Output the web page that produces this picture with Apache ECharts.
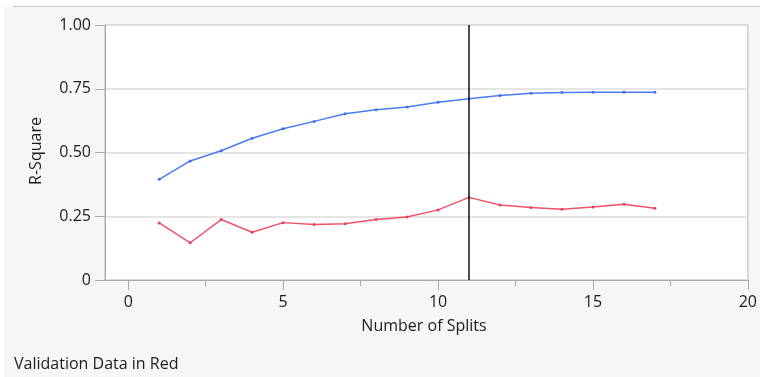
<!DOCTYPE html>
<html>
<head>
<meta charset="utf-8">
<script src="https://cdn.jsdelivr.net/npm/echarts@6/dist/echarts.min.js"></script>
<style>
  html, body { margin: 0; padding: 0; background: #ffffff; }
  #chart { width: 760px; height: 377px; }
</style>
</head>
<body>
<div id="chart"></div>
<script>
// Number of splits in the partition tree
const splits = [1, 2, 3, 4, 5, 6, 7, 8, 9, 10, 11, 12, 13, 14, 15, 16, 17];
// R-Square on the training data (blue)
const trainingRSquare = [0.395, 0.467, 0.507, 0.556, 0.593, 0.622, 0.652, 0.668, 0.678, 0.697, 0.711, 0.724, 0.732, 0.735, 0.736, 0.736, 0.736];
// R-Square on the validation data (red)
const validationRSquare = [0.224, 0.146, 0.237, 0.187, 0.225, 0.218, 0.221, 0.237, 0.247, 0.275, 0.324, 0.294, 0.284, 0.277, 0.286, 0.297, 0.281];
// Chosen number of splits
const chosenSplits = 11;
// Axis tick labels
const xTicks = [0, 5, 10, 15, 20];
const xMinorTicks = [2.5, 7.5, 12.5, 17.5];
const yTicks = [0, 0.25, 0.5, 0.75, 1];

const FONT = '"Open Sans", "Noto Sans", sans-serif';
const TEXT = '#1c1c1c';
const FS = 16;

const chart = echarts.init(document.getElementById('chart'), null, { renderer: 'canvas' });

const pair = (xs, ys) => xs.map((x, i) => [x, ys[i]]);

chart.setOption({
  animation: false,
  backgroundColor: '#ffffff',
  graphic: [
    { type: 'rect', z: -10, silent: true, shape: { x: 4, y: 7, width: 756, height: 370 }, style: { fill: '#f6f6f6' } },
    { type: 'line', z: -9, silent: true, shape: { x1: 13, y1: 6.5, x2: 760, y2: 6.5 }, style: { stroke: '#c6c6c6', lineWidth: 1 } },
    { type: 'text', x: 14, y: 364, style: { text: 'Validation Data in Red', font: FS + 'px ' + FONT, fill: TEXT, verticalAlign: 'middle' } },
    { type: 'text', x: 36, y: 151, rotation: Math.PI / 2, style: { text: 'R-Square', font: FS + 'px ' + FONT, fill: TEXT, align: 'center', verticalAlign: 'middle' } },
    { type: 'text', x: 424, y: 326, style: { text: 'Number of Splits', font: FS + 'px ' + FONT, fill: TEXT, align: 'center', verticalAlign: 'middle' } }
  ],
  grid: {
    left: 105, top: 25, right: 9, bottom: 97,
    show: true, backgroundColor: '#ffffff', borderColor: '#b4b4b4', borderWidth: 1
  },
  xAxis: [
    {
      type: 'value', min: -0.75, max: 20, position: 'bottom',
      axisLine: { show: true, onZero: false, lineStyle: { color: '#a8a8a8', width: 1 } },
      axisTick: { show: true, length: 10, customValues: xTicks, lineStyle: { color: '#a8a8a8' } },
      axisLabel: { show: true, customValues: xTicks, margin: 14, fontSize: FS, fontFamily: FONT, color: TEXT },
      splitLine: { show: false }
    },
    {
      type: 'value', min: -0.75, max: 20, position: 'bottom', gridIndex: 0,
      axisLine: { show: false, onZero: false },
      axisTick: { show: true, length: 6, customValues: xMinorTicks, lineStyle: { color: '#a8a8a8' } },
      axisLabel: { show: false },
      splitLine: { show: false }
    }
  ],
  yAxis: {
    type: 'value', min: 0, max: 1, interval: 0.25,
    axisLine: { show: true, onZero: false, lineStyle: { color: '#a8a8a8', width: 1 } },
    axisTick: { show: true, length: 10, lineStyle: { color: '#a8a8a8' } },
    axisLabel: {
      margin: 14, fontSize: FS, fontFamily: FONT, color: TEXT,
      formatter: v => (v === 0 ? '0' : v.toFixed(2))
    },
    splitLine: { show: true, lineStyle: { color: '#dcdcdc', width: 1.5 } }
  },
  series: [
    {
      name: 'Training', type: 'line', data: pair(splits, trainingRSquare),
      symbol: 'circle', symbolSize: 3, showSymbol: true,
      lineStyle: { color: '#4a7cf4', width: 1.5 }, itemStyle: { color: '#3f6ff0' },
      markLine: {
        silent: true, symbol: 'none', label: { show: false },
        lineStyle: { color: '#111111', width: 1.5, type: 'solid' },
        data: [{ xAxis: chosenSplits }]
      }
    },
    {
      name: 'Validation', type: 'line', data: pair(splits, validationRSquare),
      symbol: 'circle', symbolSize: 3, showSymbol: true,
      lineStyle: { color: '#f0526a', width: 1.5 }, itemStyle: { color: '#e8405c' }
    }
  ]
});
</script>
</body>
</html>
